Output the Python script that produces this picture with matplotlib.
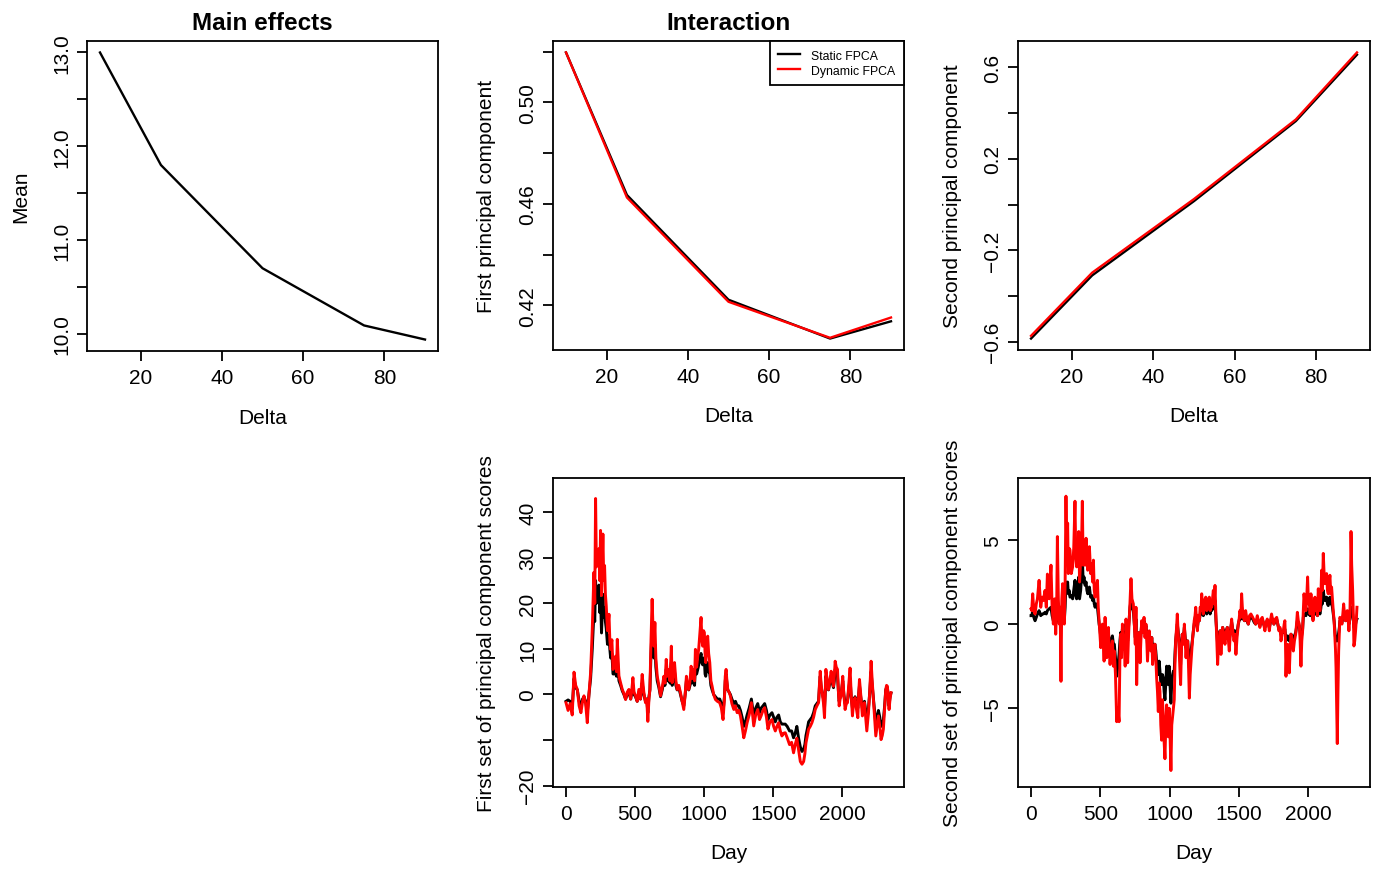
import matplotlib
matplotlib.use("Agg")
import matplotlib.pyplot as plt
import numpy as np

plt.rcParams['font.family'] = ['Liberation Sans', 'DejaVu Sans']
plt.rcParams['axes.unicode_minus'] = True

# ---------------- data ----------------
delta = [10, 25, 50, 75, 90]
mean_vals = [13.0, 11.80, 10.70, 10.09, 9.94]

pc1_static = [0.5197, 0.4635, 0.4222, 0.4069, 0.4137]
pc1_dynamic = [0.5197, 0.4625, 0.4214, 0.4072, 0.4152]

pc2_static = [-0.586, -0.310, 0.015, 0.365, 0.655]
pc2_dynamic = [-0.574, -0.298, 0.024, 0.372, 0.665]

# First set of principal component scores
day4 = [0, 15, 30, 45, 58, 70, 82, 95, 108, 120,
        130, 142, 154, 166, 178, 190, 202, 208, 214, 220,
        226, 238, 244, 250, 257, 267, 273, 279, 285, 291,
        300, 311, 317, 323, 332, 340, 350, 359, 365, 371,
        383, 395, 407, 419, 431, 443, 455, 468, 476, 484,
        492, 503, 515, 527, 539, 551, 563, 575, 584, 592,
        600, 607, 615, 623, 630, 636, 643, 650, 660, 672,
        684, 696, 708, 716, 725, 734, 744, 752, 762, 768,
        776, 785, 795, 804, 816, 828, 840, 852, 862, 871,
        880, 888, 897, 905, 914, 924, 930, 936, 945, 953,
        960, 967, 977, 983, 989, 995, 1001, 1006, 1011, 1018,
        1025, 1032, 1040, 1048, 1057, 1068, 1081, 1095, 1112, 1124,
        1136, 1146, 1152, 1158, 1164, 1170, 1180, 1189, 1200, 1214,
        1226, 1238, 1250, 1262, 1274, 1286, 1298, 1310, 1325, 1341,
        1350, 1358, 1372, 1387, 1400, 1411, 1425, 1437, 1450, 1461,
        1475, 1490, 1502, 1514, 1526, 1538, 1550, 1562, 1574, 1586,
        1600, 1617, 1632, 1646, 1658, 1670, 1682, 1695, 1707, 1719,
        1728, 1736, 1746, 1755, 1767, 1779, 1791, 1803, 1815, 1827,
        1833, 1839, 1846, 1856, 1863, 1870, 1875, 1880, 1890, 1899,
        1908, 1918, 1926, 1935, 1941, 1947, 1955, 1964, 1970, 1976,
        1983, 1990, 1996, 2002, 2010, 2019, 2028, 2036, 2045, 2055,
        2063, 2072, 2080, 2091, 2100, 2111, 2117, 2123, 2132, 2144,
        2150, 2159, 2168, 2176, 2182, 2188, 2196, 2207, 2215, 2224,
        2232, 2241, 2250, 2260, 2270, 2279, 2288, 2296, 2305, 2313,
        2319, 2325, 2331, 2337, 2344, 2351]
score1_dynamic = [-1.8, -3.5, -2.0, -4.5, 4.9, 2.0, 1.1, -2.5, -4.0, -1.5,
                  -0.3, -2.0, -6.2, 0.0, 4.8, 14.3, 26.8, 20.0, 43.0, 28.0,
                  30.5, 32.0, 25.0, 36.0, 21.7, 35.2, 25.0, 28.3, 22.0, 19.5,
                  14.0, 17.6, 12.0, 9.9, 12.0, 5.5, 6.5, 8.4, 5.0, 12.1,
                  4.0, 2.5, 1.1, 0.2, -1.1, 0.5, 1.1, -1.0, 1.0, 3.7,
                  0.5, -0.3, -1.5, 1.1, -1.0, 4.4, 0.5, -1.8, -1.0, -5.9,
                  -1.0, 1.1, 12.0, 20.9, 14.0, 10.6, 15.8, 8.0, 4.0, 2.0,
                  -0.3, 1.5, 4.0, 2.5, 7.7, 4.0, 5.5, 3.0, 10.6, 2.6,
                  5.0, 7.0, 3.0, 1.1, 2.0, 0.4, -1.5, -3.3, 0.0, 4.0,
                  2.0, 1.1, 3.0, 6.2, 3.5, 5.5, 3.0, 9.9, 6.0, 8.4,
                  10.0, 12.8, 16.9, 12.0, 10.6, 14.0, 13.6, 9.0, 7.0, 11.0,
                  12.8, 9.0, 7.0, 3.0, 1.8, 0.0, -1.1, -1.5, -1.8, -3.0,
                  -5.5, -1.0, 4.0, 5.5, 3.0, 1.1, 0.5, -0.3, -2.0, -3.3,
                  -2.5, -4.0, -3.5, -4.7, -7.0, -9.5, -8.0, -6.2, -4.5, -1.8,
                  -4.5, -6.9, -4.5, -3.3, -5.5, -4.7, -3.5, -2.9, -5.0, -7.6,
                  -6.0, -5.5, -7.0, -8.0, -7.0, -6.2, -8.0, -9.1, -8.5, -8.4,
                  -9.5, -11.0, -10.5, -12.8, -11.0, -9.6, -12.0, -14.7, -15.3, -14.7,
                  -13.0, -10.6, -9.0, -7.6, -7.0, -6.2, -5.0, -3.3, -2.5, -1.8,
                  2.0, 5.1, 2.0, -0.3, -2.0, -5.1, 0.0, 5.5, 3.0, 1.1,
                  3.0, 5.1, 3.0, 1.8, 4.0, 7.3, 6.0, 5.5, 1.0, -2.5,
                  -1.0, -0.3, 2.0, 4.0, 0.0, -3.3, -2.0, -1.8, 2.0, 5.8,
                  0.0, -4.7, -2.0, -0.7, -3.0, -5.1, 0.0, 3.3, 0.0, -4.7,
                  -3.0, -1.8, -5.0, -8.0, -6.0, -4.0, 0.0, 7.3, 3.0, -1.1,
                  -5.0, -9.1, -7.0, -4.7, -7.0, -9.9, -9.0, -7.6, -3.0, 1.1,
                  2.0, 1.8, -1.0, -3.3, -1.0, 0.4]
score1_static = [-1.5, -1.2, -1.5, -3.0, 3.5, 1.5, 1.0, -1.5, -2.5, -1.0,
                 -0.5, -1.5, -4.0, 0.0, 3.5, 10.0, 18.0, 16.0, 25.0, 20.0,
                 22.0, 24.0, 18.0, 21.0, 13.5, 22.0, 17.0, 19.0, 16.0, 14.5,
                 11.0, 13.0, 10.0, 8.0, 9.0, 4.5, 4.5, 6.0, 4.0, 8.0,
                 3.0, 2.0, 0.8, 0.0, -1.0, 0.0, 0.5, -1.0, 0.5, 2.0,
                 0.0, -0.5, -1.5, 0.5, -1.0, 2.5, 0.0, -1.5, -1.0, -4.0,
                 -0.5, 1.0, 9.0, 15.0, 11.0, 8.0, 11.0, 6.0, 3.0, 1.5,
                 -0.5, 1.0, 3.0, 2.0, 5.5, 3.0, 4.0, 2.5, 7.0, 2.0,
                 3.5, 5.0, 2.0, 1.0, 1.5, 0.0, -1.5, -2.5, 0.0, 3.0,
                 1.5, 1.0, 2.0, 4.0, 2.5, 3.5, 2.0, 6.0, 4.5, 5.5,
                 6.5, 7.5, 9.0, 7.0, 6.5, 8.0, 7.5, 4.5, 4.0, 6.5,
                 7.0, 5.0, 4.5, 2.0, 1.0, 0.0, -0.5, -1.0, -1.0, -2.0,
                 -4.0, -0.5, 3.0, 4.5, 2.5, 1.0, 0.5, 0.0, -1.0, -2.0,
                 -1.5, -2.5, -2.5, -3.5, -5.0, -7.0, -6.0, -4.5, -3.0, -1.0,
                 -3.0, -5.0, -3.0, -2.0, -4.0, -3.0, -2.5, -2.0, -3.5, -5.5,
                 -4.5, -4.0, -5.0, -6.0, -5.0, -4.5, -6.0, -6.5, -6.5, -6.5,
                 -7.0, -8.0, -8.0, -9.5, -8.5, -7.0, -9.5, -11.5, -12.5, -12.0,
                 -11.0, -9.0, -7.5, -6.0, -5.5, -5.0, -4.0, -2.5, -2.0, -1.5,
                 1.5, 4.0, 1.5, 0.0, -1.0, -3.0, 0.0, 4.0, 2.5, 1.0,
                 2.5, 4.0, 2.5, 1.5, 3.0, 5.5, 4.5, 4.0, 1.0, -1.5,
                 -0.5, 0.0, 1.5, 3.0, 0.0, -2.0, -1.5, -1.5, 1.0, 3.5,
                 -0.5, -3.0, -1.5, -0.5, -2.0, -3.0, 0.0, 2.0, -0.5, -3.0,
                 -2.5, -1.5, -3.5, -5.0, -4.5, -3.0, 0.0, 5.0, 2.0, -1.0,
                 -3.5, -6.5, -5.0, -3.5, -5.0, -7.0, -6.5, -5.5, -2.5, 1.0,
                 1.5, 1.5, -0.5, -2.5, -0.5, 0.3]

# Second set of principal component scores
day5 = [0, 5, 12, 20, 29, 38, 46, 58, 70, 80,
        89, 101, 110, 118, 130, 144, 152, 161, 170, 178,
        185, 190, 197, 204, 210, 216, 222, 228, 234, 240,
        246, 252, 258, 264, 269, 275, 281, 290, 300, 308,
        317, 323, 329, 337, 344, 350, 358, 364, 370, 376,
        382, 390, 397, 403, 409, 415, 421, 430, 438, 444,
        450, 456, 462, 470, 479, 485, 491, 497, 503, 509,
        515, 521, 527, 534, 540, 546, 552, 558, 564, 570,
        578, 587, 594, 601, 609, 618, 626, 635, 641, 647,
        653, 659, 666, 673, 679, 685, 691, 697, 702, 707,
        714, 721, 728, 738, 745, 752, 757, 762, 768, 774,
        780, 786, 792, 798, 806, 815, 822, 829, 835, 840,
        847, 853, 859, 865, 871, 877, 885, 894, 900, 906,
        912, 918, 924, 930, 936, 942, 948, 954, 960, 966,
        972, 978, 984, 990, 996, 1002, 1009, 1015, 1021, 1027,
        1033, 1038, 1043, 1049, 1055, 1061, 1067, 1073, 1079, 1085,
        1091, 1098, 1106, 1112, 1118, 1124, 1130, 1136, 1142, 1148,
        1154, 1160, 1166, 1171, 1177, 1183, 1188, 1194, 1200, 1207,
        1214, 1220, 1226, 1231, 1237, 1243, 1250, 1255, 1260, 1267,
        1274, 1280, 1286, 1292, 1298, 1303, 1309, 1315, 1321, 1327,
        1334, 1340, 1346, 1352, 1358, 1364, 1370, 1376, 1382, 1390,
        1399, 1407, 1416, 1423, 1430, 1438, 1447, 1455, 1464, 1471,
        1478, 1486, 1495, 1501, 1507, 1513, 1519, 1525, 1531, 1540,
        1548, 1557, 1567, 1576, 1586, 1599, 1610, 1620, 1632, 1642,
        1651, 1660, 1668, 1678, 1687, 1696, 1704, 1712, 1719, 1727,
        1735, 1744, 1752, 1762, 1772, 1780, 1788, 1796, 1803, 1812,
        1820, 1826, 1831, 1835, 1839, 1845, 1851, 1857, 1863, 1869,
        1875, 1883, 1892, 1900, 1909, 1915, 1921, 1928, 1935, 1941,
        1947, 1953, 1959, 1964, 1969, 1976, 1983, 1989, 1995, 2001,
        2007, 2013, 2019, 2026, 2034, 2041, 2048, 2054, 2060, 2066,
        2072, 2078, 2084, 2090, 2096, 2102, 2108, 2114, 2120, 2126,
        2132, 2138, 2144, 2150, 2156, 2162, 2168, 2174, 2180, 2186,
        2192, 2196, 2200, 2205, 2209, 2214, 2219, 2224, 2228, 2235,
        2243, 2249, 2255, 2262, 2269, 2275, 2281, 2287, 2293, 2300,
        2305, 2308, 2313, 2320, 2325, 2329, 2335, 2341, 2346, 2351]
score2_dynamic = [0.9, 0.8, 1.8, 0.8, 0.6, 1.2, 1.5, 2.6, 1.0, 1.6,
                  1.4, 2.0, 1.0, 2.97, 1.5, 3.5, 1.0, 0.0, 1.5, -0.6,
                  1.0, 5.2, 1.5, 0.0, 1.0, -3.4, 1.5, 2.4, 1.0, 0.0,
                  2.5, 7.6, 4.0, 6.0, 3.0, 4.5, 4.4, 3.0, 3.4, 4.5,
                  7.3, 4.0, 3.4, 4.0, 5.5, 2.5, 3.8, 4.5, 7.3, 3.5,
                  4.4, 3.5, 5.1, 4.0, 3.2, 4.0, 4.6, 3.0, 3.6, 2.5,
                  3.8, 2.0, 1.6, 2.2, 2.6, 1.0, 0.2, -0.5, -1.4, -0.5,
                  0.0, -1.0, -2.2, 0.4, -1.0, -2.0, -1.2, -0.2, -1.5, -2.4,
                  -1.5, -1.0, -2.5, -1.6, -3.0, -5.8, -5.0, -5.8, -2.0, -0.6,
                  -2.0, 0.0, -1.5, -0.8, -2.5, 0.3, -1.0, -2.3, -1.0, 0.0,
                  1.5, 2.7, 1.5, 1.2, 0.0, -1.2, 1.0, -3.6, -1.0, -1.6,
                  -0.5, -2.3, -1.0, 0.2, -0.5, 0.4, -0.8, 0.0, -1.0, -2.2,
                  -1.0, -0.4, -1.5, -1.6, -0.8, -2.4, -1.5, -1.2, -2.0, -3.2,
                  -4.0, -5.2, -3.5, -4.0, -6.0, -6.9, -4.5, -5.5, -7.0, -8.0,
                  -6.0, -4.8, -6.5, -6.7, -5.0, -6.3, -8.7, -6.0, -5.5, -5.0,
                  -4.5, -2.5, -1.0, -0.3, 0.6, -0.5, -1.2, -2.5, -3.6, -1.5,
                  -0.6, -1.2, 0.0, -1.0, -2.0, -1.2, -1.0, -2.5, -4.4, -3.0,
                  -2.2, -1.5, -0.8, -0.4, 0.2, 0.5, 1.0, 0.2, -0.4, 0.5,
                  0.2, 1.0, 0.8, 1.8, 1.0, 0.6, 1.2, 1.5, 1.6, 0.8,
                  1.0, 1.5, 1.6, 0.8, 1.4, 1.0, 1.5, 2.0, 1.2, 2.3,
                  0.4, -1.0, -2.4, -1.2, -1.0, -0.4, -1.8, -0.8, -0.2, -0.6,
                  -1.2, -0.5, -0.2, -0.9, -1.6, -0.5, 0.3, -0.4, -1.0, -0.6,
                  -1.8, -0.8, 0.0, 0.3, 0.8, 0.4, 1.8, 0.9, 0.4, 0.2,
                  0.8, 0.3, 0.0, 0.5, 0.6, 0.4, 0.2, 0.0, 0.5, 0.1,
                  -0.2, 0.3, 0.4, 0.0, -0.4, 0.1, 0.3, 0.0, -0.4, 0.2,
                  0.6, 0.2, 0.0, 0.3, 0.4, 0.0, -0.4, -0.2, -1.0, -0.5,
                  -0.4, 0.0, 0.2, -1.0, -3.1, -1.5, -1.2, -2.0, -2.9, -1.5,
                  -0.6, -1.0, -1.6, -1.0, -0.6, 0.0, 0.7, 0.2, 0.0, -1.0,
                  -2.5, -1.0, -0.4, 0.8, 1.8, 1.2, 0.8, 1.6, 2.8, 1.2,
                  1.4, 0.6, 1.8, 1.0, 0.2, 0.9, 1.6, 0.8, 1.2, 0.5,
                  2.1, 1.2, 0.8, 1.5, 3.2, 2.0, 4.2, 3.0, 2.4, 2.6,
                  3.0, 2.0, 1.8, 2.5, 2.9, 1.8, 2.2, 1.5, 0.8, 0.2,
                  -0.8, -1.5, -2.6, -5.0, -7.1, -4.0, -1.6, -0.5, 0.4, 0.2,
                  0.0, 0.6, 1.2, 0.5, 0.2, 0.6, 0.8, 0.3, -0.4, 0.5,
                  3.0, 5.5, 3.5, 2.0, 0.5, -1.3, -1.0, -0.4, 0.2, 1.0]
score2_static = [0.5, 0.5, 0.8, 0.4, 0.2, 0.4, 0.6, 0.8, 0.5, 0.6,
                 0.6, 0.7, 0.6, 0.8, 0.9, 1.0, 0.5, 0.2, 0.5, 0.0,
                 0.3, 0.8, 0.5, 0.1, 0.4, 0.2, 0.6, 0.8, 0.5, 0.2,
                 1.0, 2.5, 2.0, 2.5, 1.8, 2.0, 1.6, 1.7, 1.5, 2.0,
                 2.6, 1.7, 1.5, 2.2, 2.8, 1.5, 2.0, 2.8, 4.0, 2.5,
                 2.8, 2.3, 2.5, 2.0, 1.8, 2.0, 2.2, 1.6, 1.7, 1.4,
                 1.6, 1.2, 1.0, 1.2, 1.0, 0.5, 0.0, -0.3, -0.8, -0.5,
                 -0.3, -0.6, -1.0, -0.5, -0.8, -1.2, -1.0, -0.6, -0.9, -1.2,
                 -1.0, -0.7, -1.2, -1.2, -2.0, -3.1, -2.5, -1.8, -1.0, -0.5,
                 -1.0, -0.3, -0.8, -0.5, -1.0, 0.0, -0.5, -1.0, -0.3, 0.2,
                 1.0, 1.4, 1.0, 0.8, 0.0, -0.8, 0.3, -1.5, -0.8, -1.0,
                 -0.5, -1.2, -0.6, 0.0, -0.3, 0.2, -0.4, -0.1, -0.6, -1.2,
                 -0.6, -0.5, -1.0, -1.0, -0.8, -1.5, -1.2, -1.2, -1.6, -2.2,
                 -2.5, -3.0, -2.2, -2.8, -3.5, -3.6, -3.0, -3.2, -4.0, -4.5,
                 -3.5, -2.5, -3.0, -3.6, -2.5, -3.5, -4.7, -3.5, -3.0, -2.8,
                 -2.8, -1.8, -1.0, -0.5, 0.0, -0.4, -1.0, -1.8, -2.4, -1.2,
                 -0.6, -0.9, -0.2, -0.8, -1.4, -1.0, -1.0, -1.8, -2.6, -2.0,
                 -1.6, -1.2, -0.8, -0.4, 0.0, 0.3, 0.6, 0.2, -0.2, 0.3,
                 0.2, 0.6, 0.6, 1.0, 0.8, 0.5, 0.8, 1.0, 1.0, 0.6,
                 0.8, 1.0, 1.1, 0.6, 1.0, 0.8, 1.0, 1.2, 0.9, 1.4,
                 0.2, -0.5, -1.2, -0.8, -0.6, -0.4, -1.0, -0.6, -0.2, -0.4,
                 -0.8, -0.4, -0.2, -0.6, -1.0, -0.4, 0.1, -0.3, -0.6, -0.4,
                 -1.0, -0.5, 0.0, 0.2, 0.5, 0.3, 1.0, 0.6, 0.3, 0.2,
                 0.5, 0.2, 0.0, 0.3, 0.4, 0.3, 0.1, 0.0, 0.3, 0.1,
                 -0.1, 0.2, 0.3, 0.0, -0.2, 0.1, 0.2, 0.0, -0.2, 0.1,
                 0.4, 0.2, 0.0, 0.2, 0.3, 0.0, -0.3, -0.3, -0.6, -0.5,
                 -0.5, -0.4, -0.3, -0.6, -1.0, -0.8, -0.7, -0.8, -1.0, -0.8,
                 -0.6, -0.7, -0.9, -0.7, -0.5, -0.2, 0.2, 0.0, -0.1, -0.5,
                 -1.0, -0.6, -0.3, 0.4, 0.6, 0.6, 0.5, 0.8, 0.9, 0.6,
                 0.7, 0.5, 0.8, 0.6, 0.3, 0.6, 0.8, 0.6, 0.7, 0.5,
                 1.0, 0.8, 0.6, 0.9, 1.4, 1.2, 2.0, 1.6, 1.4, 1.5,
                 1.6, 1.2, 1.1, 1.4, 1.6, 1.2, 1.3, 1.0, 0.6, 0.2,
                 -0.4, -0.8, -1.0, -1.0, -1.0, -0.8, -0.5, -0.2, 0.2, 0.2,
                 0.1, 0.4, 0.6, 0.4, 0.2, 0.4, 0.5, 0.3, 0.0, 0.3,
                 0.8, 1.0, 0.8, 0.6, 0.2, -0.2, -0.3, 0.0, 0.2, 0.3]

legend_labels = ["Static FPCA", "Dynamic FPCA"]

# ---------------- figure ----------------
W, H = 1380, 870
fig = plt.figure(figsize=(W / 100, H / 100), dpi=100)

FS = 15
LW_BOX = 1.3
LW_DATA = 1.7
LW_TS = 2.1


def make_axes(left, top, right, bottom):
    return fig.add_axes([left / W, (H - bottom) / H, (right - left) / W, (bottom - top) / H])


def style(ax, xlabel, ylabel, yticks, ylabels, xticks):
    for s in ax.spines.values():
        s.set_linewidth(LW_BOX)
    ax.set_xticks(xticks)
    ax.set_xticklabels([str(t) for t in xticks])
    ax.set_yticks(yticks)
    ax.set_yticklabels(ylabels)
    ax.tick_params(direction='out', length=7.2, width=LW_BOX, labelsize=FS, pad=5)
    ax.tick_params(axis='y', labelrotation=90, pad=4)
    for lab in ax.get_yticklabels():
        lab.set_va('center')
    ax.set_xlabel(xlabel, fontsize=FS)
    ax.set_ylabel(ylabel, fontsize=FS)
    w_px = ax.get_position().width * W
    h_px = ax.get_position().height * H
    ax.xaxis.set_label_coords(0.5, -66 / h_px)
    ax.xaxis.label.set_va('center')
    ax.yaxis.set_label_coords(-66 / w_px, 0.5)
    ax.yaxis.label.set_va('center')


def fmt(v, nd):
    s = f"{v:.{nd}f}"
    return s.replace('-', '\u2212')


# Panel 1: Main effects
ax1 = make_axes(87, 42, 438, 352)
ax1.plot(delta, mean_vals, color='black', lw=LW_DATA)
ax1.margins(x=0.04, y=0.04)
yt1 = [10.0, 10.5, 11.0, 11.5, 12.0, 12.5, 13.0]
style(ax1, "Delta", "Mean", yt1,
      [fmt(v, 1) if abs(v - round(v)) < 1e-9 else "" for v in yt1], [20, 40, 60, 80])
ax1.set_title("Main effects", fontsize=17.5, fontweight='bold', pad=9)

# Panel 2: Interaction, first principal component
ax2 = make_axes(553, 42, 904, 351)
ax2.plot(delta, pc1_static, color='black', lw=LW_DATA, label=legend_labels[0])
ax2.plot(delta, pc1_dynamic, color='red', lw=LW_DATA, label=legend_labels[1])
ax2.margins(x=0.04, y=0.04)
yt2 = [0.42, 0.44, 0.46, 0.48, 0.50, 0.52]
style(ax2, "Delta", "First principal component", yt2,
      ["0.42", "", "0.46", "", "0.50", ""], [20, 40, 60, 80])
ax2.set_title("Interaction", fontsize=17.5, fontweight='bold', pad=9)
leg = ax2.legend(loc='upper right', fontsize=8.8, frameon=True, fancybox=False,
                 edgecolor='black', framealpha=1, borderaxespad=0, borderpad=0.7,
                 handlelength=1.8, handletextpad=0.9, labelspacing=0.25)
leg.get_frame().set_linewidth(LW_BOX)

# Panel 3: second principal component
ax3 = make_axes(1018, 42, 1370, 351)
ax3.plot(delta, pc2_static, color='black', lw=LW_DATA)
ax3.plot(delta, pc2_dynamic, color='red', lw=LW_DATA)
ax3.margins(x=0.04, y=0.04)
yt3 = [-0.6, -0.4, -0.2, 0.0, 0.2, 0.4, 0.6]
style(ax3, "Delta", "Second principal component", yt3,
      [fmt(-0.6, 1), "", fmt(-0.2, 1), "", "0.2", "", "0.6"], [20, 40, 60, 80])

# Panel 4: first set of scores
ax4 = make_axes(553, 479, 904, 788)
ax4.plot(day4, score1_static, color='black', lw=LW_TS)
ax4.plot(day4, score1_dynamic, color='red', lw=LW_TS)
ax4.margins(x=0.04)
ax4.set_ylim(-20.3, 47.5)
yt4 = [-20, -10, 0, 10, 20, 30, 40]
style(ax4, "Day", "First set of principal component scores", yt4,
      [fmt(-20, 0), "", "0", "10", "20", "30", "40"], [0, 500, 1000, 1500, 2000])

# Panel 5: second set of scores
ax5 = make_axes(1018, 479, 1370, 788)
ax5.plot(day5, score2_static, color='black', lw=LW_TS)
ax5.plot(day5, score2_dynamic, color='red', lw=LW_TS)
ax5.margins(x=0.04)
ax5.set_ylim(-9.68, 8.68)
yt5 = [-5, 0, 5]
style(ax5, "Day", "Second set of principal component scores", yt5,
      [fmt(-5, 0), "0", "5"], [0, 500, 1000, 1500, 2000])

fig.savefig("out.png", dpi=100)
